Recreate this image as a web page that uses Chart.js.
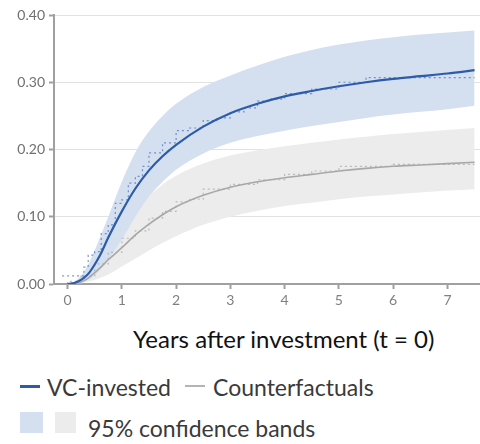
<!DOCTYPE html>
<html>
<head>
<meta charset="utf-8">
<script src="https://cdn.jsdelivr.net/npm/chart.js@4/dist/chart.umd.min.js"></script>
<style>
  html, body { margin: 0; padding: 0; background: #fff; }
  body { width: 480px; height: 444px; position: relative; overflow: hidden; font-family: Lato, "Open Sans", sans-serif; }
  #wrap { position: absolute; left: 0; top: 0; width: 480px; height: 320px; }
  .txt { position: absolute; white-space: nowrap; line-height: 1.2; }
  #xtitle { left: 133px; top: 325px; font-size: 24px; color: #111; }
  .leg { color: #3a3a3a; font-size: 23px; }
  .swline { position: absolute; height: 3px; }
  .swbox { position: absolute; }
</style>
</head>
<body>
<div id="wrap"><canvas id="c"></canvas></div>
<div id="xtitle" class="txt">Years after investment (t = 0)</div>

<div class="swline" style="left:20px; top:385px; width:20px; background:#2c5ca8;"></div>
<div class="txt leg" style="left:47px; top:374px;">VC-invested</div>
<div class="swline" style="left:185px; top:385px; width:20px; height:2px; background:#b4b4b4;"></div>
<div class="txt leg" style="left:213px; top:374px;">Counterfactuals</div>

<div class="swbox" style="left:20px; top:412px; width:23px; height:21px; background:#d4dff0;"></div>
<div class="swbox" style="left:55px; top:412px; width:21px; height:21px; background:#ececec;"></div>
<div class="txt leg" style="left:88px; top:415px;">95% confidence bands</div>

<script>
// Years since the investment date
const years = [0, 0.1, 0.2, 0.3, 0.4, 0.5, 0.6, 0.75, 1, 1.25, 1.5, 1.75, 2, 2.5, 3, 3.5, 4, 4.5, 5, 5.5, 6, 6.5, 7, 7.5];

// Smoothed estimates with 95% bands
const vcMean  = [0, 0.001, 0.004, 0.009, 0.017, 0.029, 0.043, 0.069, 0.108, 0.142, 0.169, 0.190, 0.207, 0.234, 0.254, 0.268, 0.279, 0.287, 0.294, 0.300, 0.305, 0.309, 0.313, 0.318];
const vcUpper = [0, 0.002, 0.008, 0.018, 0.032, 0.050, 0.070, 0.100, 0.152, 0.196, 0.227, 0.250, 0.268, 0.293, 0.310, 0.325, 0.338, 0.348, 0.356, 0.362, 0.367, 0.371, 0.374, 0.377];
const vcLower = [0, 0.000, 0.001, 0.003, 0.007, 0.013, 0.021, 0.036, 0.066, 0.100, 0.130, 0.152, 0.170, 0.194, 0.210, 0.220, 0.228, 0.235, 0.241, 0.247, 0.252, 0.256, 0.260, 0.265];

const cfMean  = [0, 0.001, 0.002, 0.005, 0.010, 0.017, 0.024, 0.036, 0.054, 0.073, 0.089, 0.103, 0.115, 0.132, 0.144, 0.152, 0.158, 0.163, 0.168, 0.172, 0.175, 0.177, 0.179, 0.181];
const cfUpper = [0, 0.001, 0.004, 0.008, 0.016, 0.026, 0.037, 0.056, 0.084, 0.110, 0.131, 0.148, 0.161, 0.179, 0.191, 0.199, 0.205, 0.210, 0.215, 0.219, 0.223, 0.226, 0.229, 0.232];
const cfLower = [0, 0.000, 0.001, 0.002, 0.004, 0.006, 0.009, 0.014, 0.026, 0.038, 0.050, 0.061, 0.071, 0.088, 0.100, 0.109, 0.116, 0.121, 0.126, 0.130, 0.133, 0.136, 0.139, 0.141];

// Raw period averages (step series)
const vcObsYears = [-0.1, 0.3, 0.38, 0.5, 0.62, 0.75, 0.88, 1.0, 1.12, 1.25, 1.38, 1.5, 1.75, 2.0, 2.25, 2.5, 2.75, 3.0, 3.25, 3.5, 3.75, 4.0, 4.5, 5.0, 5.5, 6.0, 7.5];
const vcObs      = [0.012, 0.012, 0.025, 0.043, 0.048, 0.075, 0.088, 0.12, 0.125, 0.15, 0.16, 0.175, 0.195, 0.21, 0.228, 0.232, 0.243, 0.247, 0.256, 0.262, 0.272, 0.275, 0.283, 0.29, 0.3, 0.307, 0.307];
const cfObsYears = [0, 0.25, 0.5, 0.75, 1.0, 1.25, 1.5, 1.75, 2.0, 2.25, 2.5, 3.0, 3.5, 4.0, 4.5, 5.0, 6.0, 7.5];
const cfObs      = [0.0, 0.004, 0.012, 0.03, 0.047, 0.068, 0.079, 0.098, 0.108, 0.122, 0.126, 0.141, 0.148, 0.155, 0.163, 0.168, 0.175, 0.178];

// Axis ticks
const xTicks = [0, 1, 2, 3, 4, 5, 6, 7];
const yTicks = [0, 0.1, 0.2, 0.3, 0.4];

const pts = (xs, ys) => xs.map((x, i) => ({ x: x, y: ys[i] }));

const BLUE = '#2c5ca8';
const BLUE_BAND = '#d4dff0';
const GREY = '#a8a8a8';
const GREY_BAND = '#ececec';
const AXIS = '#a0a0a0';

const smooth = { pointRadius: 0, cubicInterpolationMode: 'monotone', tension: 0.4 };

new Chart(document.getElementById('c'), {
  type: 'line',
  data: {
    datasets: [
      { data: pts(years, vcMean), borderColor: BLUE, borderWidth: 2.2, fill: false, order: 1, ...smooth },
      { data: pts(years, cfMean), borderColor: GREY, borderWidth: 1.6, fill: false, order: 2, ...smooth },
      { data: pts(vcObsYears, vcObs), borderColor: 'rgba(70,110,190,0.7)', borderWidth: 1.2, borderDash: [2, 3], stepped: 'after', pointRadius: 0, fill: false, order: 5 },
      { data: pts(cfObsYears, cfObs), borderColor: 'rgba(170,170,170,0.75)', borderWidth: 1.2, borderDash: [2, 3], stepped: 'after', pointRadius: 0, fill: false, order: 6 },
      { data: pts(years, vcUpper), borderWidth: 0, borderColor: 'rgba(0,0,0,0)', backgroundColor: BLUE_BAND, fill: { target: 5 }, order: 9, ...smooth },
      { data: pts(years, vcLower), borderWidth: 0, borderColor: 'rgba(0,0,0,0)', fill: false, order: 9, ...smooth },
      { data: pts(years, cfUpper), borderWidth: 0, borderColor: 'rgba(0,0,0,0)', backgroundColor: GREY_BAND, fill: { target: 7 }, order: 10, ...smooth },
      { data: pts(years, cfLower), borderWidth: 0, borderColor: 'rgba(0,0,0,0)', fill: false, order: 10, ...smooth }
    ]
  },
  options: {
    responsive: true,
    maintainAspectRatio: false,
    animation: false,
    events: [],
    layout: { padding: { top: 15, right: 0, bottom: 0, left: 0 } },
    plugins: { legend: { display: false }, tooltip: { enabled: false }, title: { display: false } },
    scales: {
      x: {
        type: 'linear',
        min: -0.25,
        max: 7.6,
        afterBuildTicks: s => { s.ticks = xTicks.map(v => ({ value: v })); },
        afterFit: s => { s.height = 36; },
        ticks: { color: '#808080', font: { family: 'Lato', size: 14 }, padding: 3, maxRotation: 0, autoSkip: false },
        grid: { drawOnChartArea: false, drawTicks: true, tickLength: 5, tickColor: AXIS, tickWidth: 2 },
        border: { color: AXIS, width: 2 }
      },
      y: {
        min: 0,
        max: 0.4,
        afterBuildTicks: s => { s.ticks = yTicks.map(v => ({ value: v })); },
        afterFit: s => { s.width = 54; },
        ticks: { color: '#707070', font: { family: 'Lato', size: 14 }, padding: 4, callback: v => v.toFixed(2) },
        grid: { color: '#e2e2e2', lineWidth: 1, borderDash: [2, 2], tickBorderDash: [0, 0], tickColor: AXIS, tickLength: 5, tickWidth: 2 },
        border: { color: AXIS, width: 2 }
      }
    }
  }
});
</script>
</body>
</html>
